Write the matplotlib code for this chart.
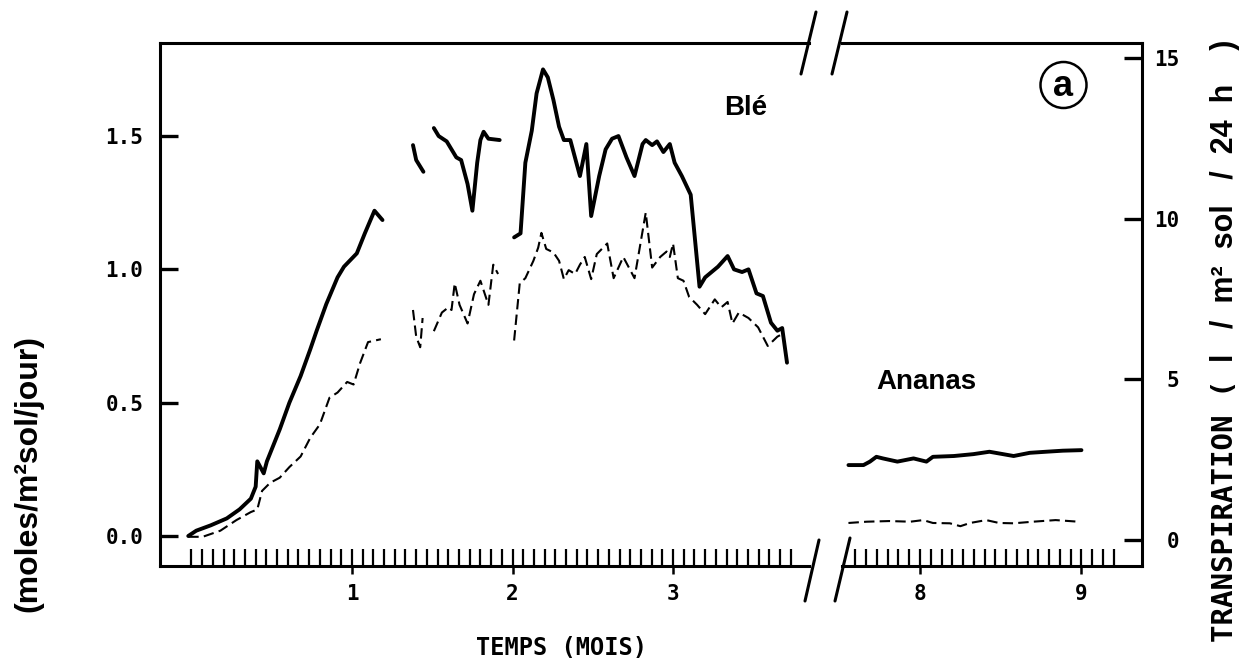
import numpy as np
import matplotlib.pyplot as plt
from matplotlib.lines import Line2D
from matplotlib.patches import Ellipse
from matplotlib.ticker import FixedLocator, FormatStrFormatter

nan = np.nan

# Ble, trait plein : echelle de gauche (moles/m2 sol/jour), nan = interruption
ble_plein_mois = [-0.02, 0.03, 0.12, 0.22, 0.30, 0.37, 0.40, 0.41, 0.45, 0.47, 0.55, 0.61,
                  0.68, 0.74, 0.78, 0.84, 0.91, 0.95, 1.03, 1.08, 1.14, 1.19, nan,
                  1.38, 1.40, 1.445, nan,
                  1.51, 1.54, 1.59, 1.62, 1.65, 1.68, 1.72, 1.75, 1.78, 1.80, 1.82, 1.85, 1.92, nan,
                  2.01, 2.05, 2.08, 2.12, 2.15, 2.19, 2.22, 2.255, 2.29, 2.32, 2.36, 2.42, 2.46,
                  2.49, 2.54, 2.58, 2.62, 2.66, 2.71, 2.76, 2.81, 2.83, 2.87, 2.90, 2.94, 2.98,
                  3.01, 3.055, 3.11, 3.165, 3.20, 3.28, 3.34, 3.38, 3.43, 3.47, 3.52, 3.56,
                  3.61, 3.65, 3.68, 3.71]
ble_plein_val = [0.00, 0.02, 0.04, 0.066, 0.10, 0.14, 0.185, 0.28, 0.235, 0.28, 0.40, 0.50,
                 0.60, 0.70, 0.77, 0.87, 0.97, 1.01, 1.06, 1.135, 1.22, 1.185, nan,
                 1.466, 1.41, 1.366, nan,
                 1.53, 1.50, 1.48, 1.45, 1.42, 1.41, 1.32, 1.22, 1.40, 1.485, 1.516, 1.49, 1.485, nan,
                 1.12, 1.135, 1.40, 1.52, 1.66, 1.75, 1.72, 1.635, 1.535, 1.485, 1.485, 1.35, 1.47,
                 1.20, 1.35, 1.45, 1.49, 1.50, 1.42, 1.35, 1.47, 1.485, 1.466, 1.48, 1.44, 1.47,
                 1.40, 1.35, 1.28, 0.935, 0.97, 1.01, 1.05, 1.00, 0.99, 1.00, 0.91, 0.90,
                 0.80, 0.77, 0.78, 0.65]

# Ble, tirets : transpiration (l/m2 sol/24 h), echelle de droite
ble_tirets_mois = [-0.02, 0.07, 0.18, 0.28, 0.37, 0.41, 0.44, 0.49, 0.55, 0.61, 0.68, 0.74,
                   0.80, 0.86, 0.91, 0.97, 1.01, 1.05, 1.10, 1.18, nan,
                   1.38, 1.40, 1.425, 1.44, nan,
                   1.51, 1.56, 1.60, 1.62, 1.64, 1.67, 1.72, 1.76, 1.80, 1.85, 1.88, 1.91, nan,
                   2.01, 2.045, 2.08, 2.13, 2.16, 2.18, 2.21, 2.255, 2.29, 2.32, 2.35, 2.39,
                   2.42, 2.45, 2.49, 2.525, 2.59, 2.63, 2.69, 2.76, 2.83, 2.87, 2.92, 2.96,
                   2.98, 3.00, 3.03, 3.065, 3.10, 3.15, 3.20, 3.26, 3.30, 3.34, 3.37, 3.41,
                   3.47, 3.53, 3.59, 3.65, 3.68]
ble_tirets_val = [0.1, 0.1, 0.29, 0.62, 0.87, 0.95, 1.53, 1.78, 1.94, 2.27, 2.60, 3.18,
                  3.60, 4.43, 4.59, 4.92, 4.84, 5.50, 6.16, 6.25, nan,
                  7.16, 6.33, 6.0, 6.91, nan,
                  6.5, 7.08, 7.24, 7.16, 7.99, 7.32, 6.74, 7.65, 8.07, 7.32, 8.57, 8.28, nan,
                  6.21, 7.99, 8.15, 8.69, 9.10, 9.56, 9.06, 8.95, 8.69, 8.12, 8.40, 8.28,
                  8.57, 8.81, 8.12, 8.90, 9.23, 8.15, 8.81, 8.15, 10.19, 8.48, 8.81, 8.98,
                  8.81, 9.23, 8.15, 8.07, 7.57, 7.32, 7.03, 7.49, 7.24, 7.41, 6.74, 7.08,
                  6.91, 6.62, 6.04, 6.33, 6.41]

# Ananas
ananas_plein_mois = [7.557, 7.65, 7.69, 7.73, 7.77, 7.86, 7.96, 8.04, 8.08, 8.21, 8.33,
                     8.43, 8.58, 8.68, 8.78, 8.885, 9.0]
ananas_plein_val = [0.266, 0.266, 0.279, 0.297, 0.291, 0.279, 0.291, 0.279, 0.297, 0.30, 0.307,
                    0.316, 0.30, 0.312, 0.316, 0.32, 0.322]
ananas_tirets_mois = [7.557, 7.67, 7.81, 7.94, 8.02, 8.08, 8.185, 8.25, 8.31, 8.41, 8.49,
                      8.58, 8.70, 8.84, 8.98]
ananas_tirets_val = [0.53, 0.57, 0.59, 0.57, 0.62, 0.53, 0.52, 0.43, 0.53, 0.62, 0.53,
                     0.52, 0.57, 0.62, 0.57]

mois_gauche = [1, 2, 3]
mois_droite = [8, 9]
graduations_gauche = [0.0, 0.5, 1.0, 1.5]
graduations_droite = [0, 5, 10, 15]

W, H = 1243, 662
MONO = 'DejaVu Sans Mono'
SANS = 'Liberation Sans'


def box(x0, y0, x1, y1):
    return [x0 / W, 1 - y1 / H, (x1 - x0) / W, (y1 - y0) / H]


def fx(x):
    return x / W


def fy(y):
    return 1 - y / H


fig = plt.figure(figsize=(W / 100, H / 100), dpi=100)
ax1 = fig.add_axes(box(160, 43, 809, 566))
ax2 = fig.add_axes(box(842, 43, 1142, 566))
ax1.set_xlim(-0.196, 3.847)
ax2.set_xlim(7.517, 9.375)
t1 = ax1.twinx()
t2 = ax2.twinx()
for ax in (ax1, ax2):
    ax.set_ylim(-0.1125, 1.849)
for t in (t1, t2):
    t.set_ylim(-0.809, 15.47)

lw_spine = 2.2
for ax in (ax1, ax2, t1, t2):
    for s in ax.spines.values():
        s.set_linewidth(lw_spine)
        s.set_visible(False)
for ax in (ax1, ax2):
    ax.spines['top'].set_visible(True)
    ax.spines['bottom'].set_visible(True)
ax1.spines['left'].set_visible(True)
t2.spines['right'].set_visible(True)

# axes des x
for ax, mois, lo, hi in ((ax1, mois_gauche, 0, 56), (ax2, mois_droite, 114, 138)):
    ax.xaxis.remove_overlapping_locs = False
    ax.xaxis.set_major_locator(FixedLocator(mois))
    ax.xaxis.set_minor_locator(FixedLocator(np.arange(lo, hi + 1) / 15))
    ax.tick_params(axis='x', which='major', direction='out', length=6, width=1.8,
                   pad=7, labelsize=15)
    ax.tick_params(axis='x', which='minor', direction='in', length=12, width=1.6)
    ax.set_xticklabels([str(m) for m in mois], fontfamily=MONO, fontweight='bold')

# axe de gauche
ax1.yaxis.set_major_locator(FixedLocator(graduations_gauche))
ax1.yaxis.set_major_formatter(FormatStrFormatter('%.1f'))
ax1.tick_params(axis='y', direction='in', length=13, width=2.4, pad=12, labelsize=15)
for lab in ax1.get_yticklabels():
    lab.set_fontfamily(MONO)
    lab.set_fontweight('bold')
ax2.set_yticks([])
t1.set_yticks([])

# axe de droite (transpiration)
t2.yaxis.set_major_locator(FixedLocator(graduations_droite))
t2.tick_params(axis='y', direction='in', length=13, width=2.4, pad=27, labelsize=15)
for lab in t2.get_yticklabels():
    lab.set_fontfamily(MONO)
    lab.set_fontweight('bold')
    lab.set_horizontalalignment('right')

# courbes
kw_plein = dict(color='black', lw=2.8, solid_joinstyle='round', solid_capstyle='round')
kw_tirets = dict(color='black', lw=1.5, dashes=(5, 2.5))
ax1.plot(ble_plein_mois, ble_plein_val, **kw_plein)
t1.plot(ble_tirets_mois, ble_tirets_val, **kw_tirets)
ax2.plot(ananas_plein_mois, ananas_plein_val, **kw_plein)
t2.plot(ananas_tirets_mois, ananas_tirets_val, **kw_tirets)

# coupures de l'axe
for (x0, y0, x1, y1) in [(801, 74, 816, 12), (832, 74, 847, 12),
                         (805, 601, 819, 540), (835, 601, 850, 538)]:
    fig.add_artist(Line2D([fx(x0), fx(x1)], [fy(y0), fy(y1)], transform=fig.transFigure,
                          color='black', lw=2.2, solid_capstyle='round'))

# textes
ax1.text(3.45, 1.605, 'Blé', fontsize=20, fontfamily=SANS, fontweight='bold',
         ha='center', va='center')
ax2.text(8.04, 0.577, 'Ananas', fontsize=20, fontfamily=SANS, fontweight='bold',
         ha='center', va='center')
fig.add_artist(Ellipse((fx(1063.5), fy(85)), 46 / W, 46 / H, transform=fig.transFigure,
                       fill=False, lw=1.8, color='black'))
fig.text(fx(1063.5), fy(86), 'a', fontsize=26, fontfamily=SANS, fontweight='bold',
         ha='center', va='center')

fig.text(fx(561), fy(648), 'TEMPS (MOIS)', fontsize=17, fontfamily=MONO, fontweight='bold',
         ha='center', va='center')
fig.text(fx(28), fy(474), '(moles/m²sol/jour)', fontsize=23, fontfamily=SANS,
         fontweight='bold', rotation=90, ha='center', va='center')
fig.text(fx(1225), fy(642), 'TRANSPIRATION (', fontsize=21, fontfamily=MONO,
         fontweight='bold', rotation=90, rotation_mode='anchor', ha='left', va='center')
fig.text(fx(1225), fy(362), 'l   /  m²  sol   /  24  h    )', fontsize=22, fontfamily=SANS,
         fontweight='bold', rotation=90, rotation_mode='anchor', ha='left', va='center')

fig.savefig('out.png', dpi=100)
